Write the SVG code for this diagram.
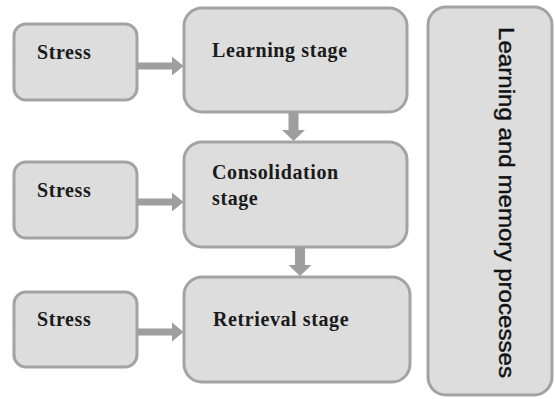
<svg xmlns="http://www.w3.org/2000/svg" width="555" height="399" viewBox="0 0 555 399">
<style>
.box{fill:#dddddd;stroke:#a3a3a3;stroke-width:3}
.t{font-family:"Liberation Serif","Times New Roman",serif;font-weight:bold;font-size:20px;letter-spacing:0.6px;fill:#1a1a1a}
.v{font-family:"Liberation Sans",Arial,sans-serif;font-size:22px;fill:#111;stroke:#111;stroke-width:0.4}
.arr{fill:#9e9e9e}
</style>
<rect width="555" height="399" fill="#ffffff"/>
<g id="stress1"><rect class="box" x="14" y="24" width="123" height="76" rx="12"/><text class="t" x="37" y="59">Stress</text></g>
<g id="stress2"><rect class="box" x="14" y="162" width="123" height="76" rx="12"/><text class="t" x="37" y="197">Stress</text></g>
<g id="stress3"><rect class="box" x="14" y="292" width="123" height="75" rx="12"/><text class="t" x="37" y="326">Stress</text></g>
<g id="learning"><rect class="box" x="184" y="8" width="223" height="104" rx="18"/><text class="t" x="212" y="57">Learning stage</text></g>
<g id="consolidation"><rect class="box" x="184" y="142" width="223" height="105" rx="18"/><text class="t" x="212" y="179">Consolidation</text><text class="t" x="212" y="205">stage</text></g>
<g id="retrieval"><rect class="box" x="184" y="277" width="226" height="105" rx="18"/><text class="t" x="213" y="326">Retrieval stage</text></g>
<g id="processes"><rect class="box" x="428" y="7" width="124" height="388" rx="18"/><text class="v" transform="translate(499,27) rotate(90)" textLength="351" lengthAdjust="spacingAndGlyphs">Learning and memory processes</text></g>
<g id="connectors">
<path class="arr" d="M137,62.5 H172 V56.5 L183.5,66 L172,75.5 V69.5 H137 Z"/>
<path class="arr" d="M137,198.5 H172 V192.5 L183.5,202 L172,211.5 V205.5 H137 Z"/>
<path class="arr" d="M137,328.5 H172 V322.5 L183.5,332 L172,341.5 V335.5 H137 Z"/>
<path class="arr" d="M288.5,112 H298.5 V130 H305 L293.5,141 L282,130 H288.5 Z"/>
<path class="arr" d="M295,247 H305 V265 H311.5 L300,276 L288.5,265 H295 Z"/>
</g>
</svg>
